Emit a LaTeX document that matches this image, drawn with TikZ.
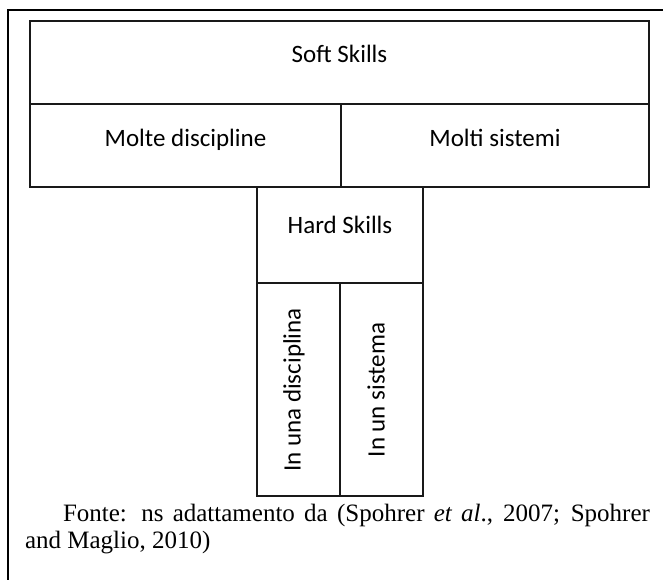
\documentclass[tikz,border=0pt]{standalone}
\usepackage{fontspec}
\setmainfont{Liberation Serif}
\newfontfamily\skillfont{Carlito}

\begin{document}
\begin{tikzpicture}[x=1pt,y=-1pt,
      every node/.style={inner sep=0pt,outer sep=0pt},
      cell/.style={draw=black!90,line width=1.7pt,rectangle},
      skill/.style={font=\skillfont\fontsize{25}{29}\selectfont,anchor=base},
      vskill/.style={font=\skillfont\fontsize{25}{29}\selectfont,rotate=90},
      caption/.style={font=\fontsize{25}{28}\selectfont,anchor=base west}]
\useasboundingbox (0,0) rectangle (663,580);
% frame
\coordinate (frameR) at (663,10);
\coordinate (frameC) at (8,10);
\coordinate (frameB) at (8,580);
\draw[line width=2.6pt] (frameR) -- (frameC) -- (frameB);
% boxes
\node[cell,minimum width=619pt,minimum height=83pt] (soft) at (339.5,62.5) {};
\node[cell,minimum width=311pt,minimum height=83pt] (many) at (185.5,145.5) {};
\node[cell,minimum width=308pt,minimum height=83pt] (sys) at (495,145.5) {};
\node[cell,minimum width=166pt,minimum height=96pt] (hard) at (340,235) {};
\node[cell,minimum width=83pt,minimum height=213pt] (one) at (298.5,389.5) {};
\node[cell,minimum width=83pt,minimum height=213pt] (onesys) at (381.5,389.5) {};
% labels
\node[skill] (softtxt) at (339.5,63) {Soft Skills};
\node[skill] (manytxt) at (185.5,147) {Molte discipline};
\node[skill] (systxt) at (495,147) {Molti sistemi};
\node[skill] (hardtxt) at (340,233) {Hard Skills};
\node[vskill] (onetxt) at (294,390) {In una disciplina};
\node[vskill] (onesystxt) at (376,390) {In un sistema};
% source (justified first line)
\node[caption] (src1) at (63,521) {\makebox[587pt][s]{Fonte: ns adattamento da (Spohrer \textit{et al}., 2007; Spohrer}};
\node[caption] (src2) at (25,548) {and Maglio, 2010)};
\end{tikzpicture}
\end{document}
